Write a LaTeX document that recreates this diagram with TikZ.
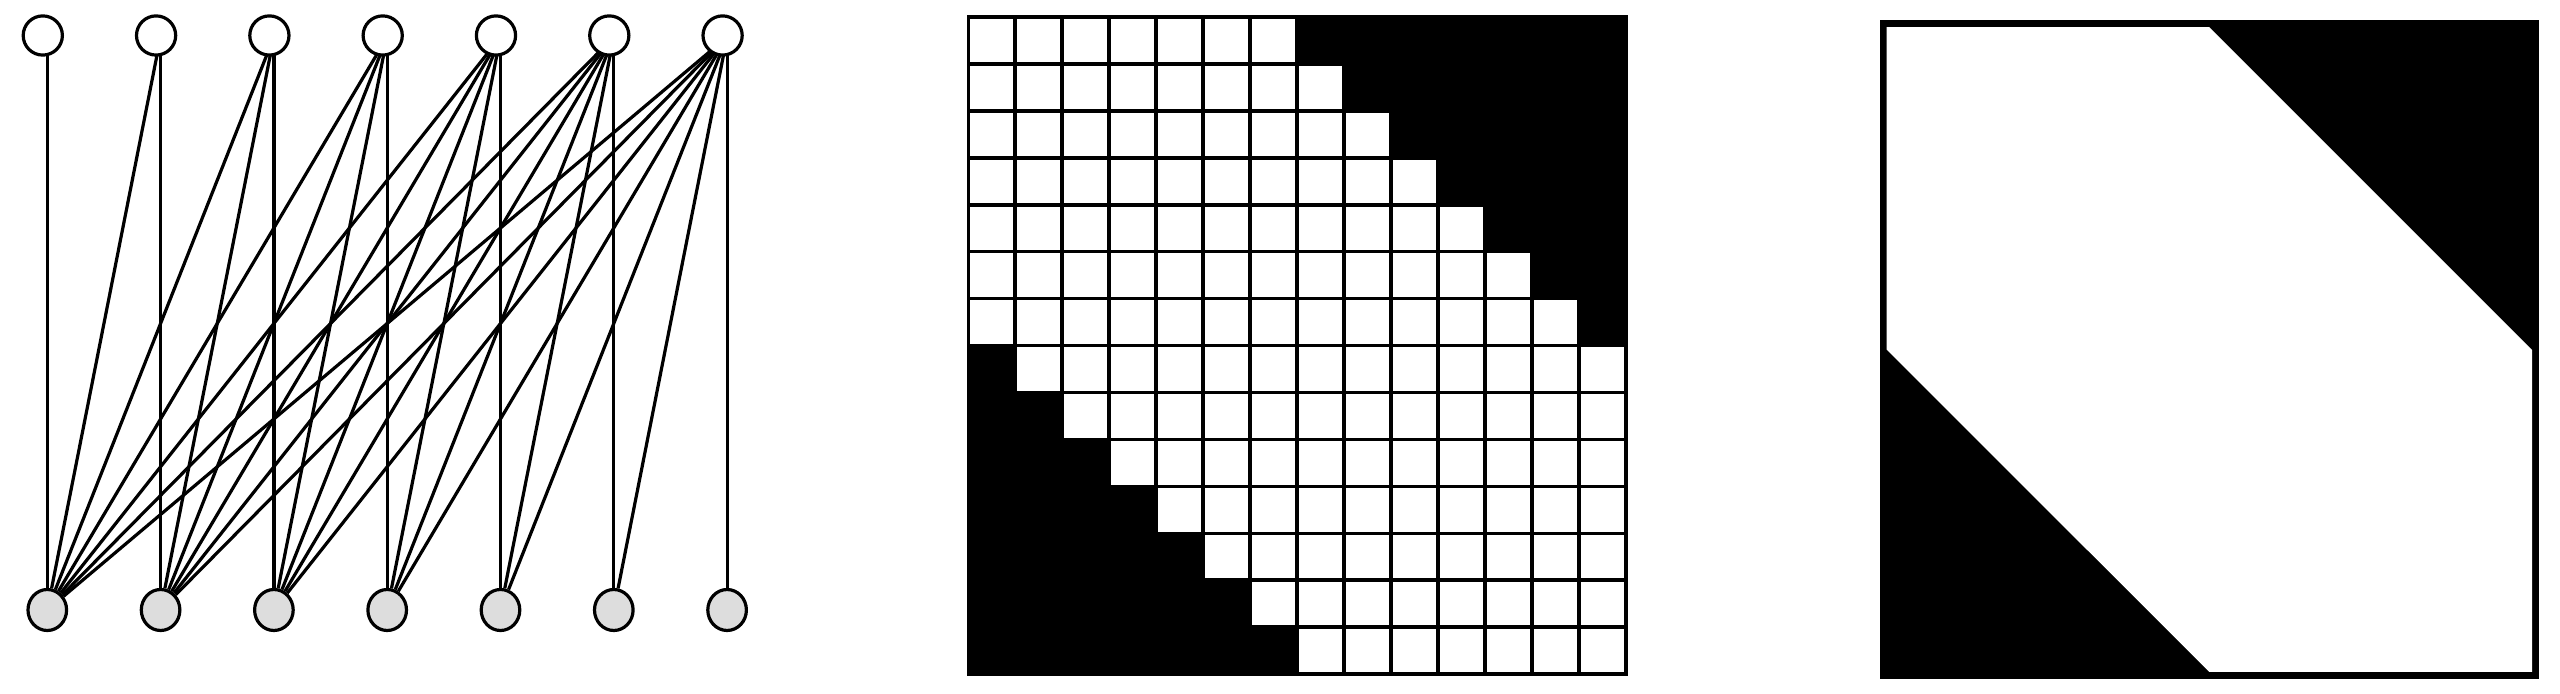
\documentclass[tikz,border=0pt]{standalone}
\usetikzlibrary{shapes.geometric}
\definecolor{botgray}{HTML}{DDDDDD}
\begin{document}
\begin{tikzpicture}[x=0.25pt,y=-0.25pt,
  topnode/.style={circle,draw=black,fill=white,line width=0.8pt,minimum size=9.8pt,inner sep=0pt},
  botnode/.style={ellipse,draw=black,fill=botgray,line width=0.8pt,minimum width=9.65pt,minimum height=10.25pt,inner sep=0pt},
  linkline/.style={draw=black,line width=0.8pt},
  cellbox/.style={draw=black,fill=white,line width=0.95pt}]
\useasboundingbox (0,0) rectangle (2560,694);
% bipartite graph
\foreach \i in {0,...,6} {
  \coordinate (t\i) at ({47.3+113.3*\i},37);
  \node[botnode] (b\i) at ({47.3+113.3*\i},610) {};
}
\foreach \i in {0,...,6} {
  \foreach \j in {0,...,\i} {
    \draw[linkline] (t\i) -- (b\j);
  }
}
\foreach \i in {0,...,6} {
  \node[topnode] (tc\i) at ({42.8+113.3*\i},35.5) {};
}
% grid
\fill[black,draw=black,line width=0.95pt] (968.4,16.75) rectangle (1626,674.35);
\foreach \r in {0,...,13} {
  \foreach \c in {0,...,13} {
    \pgfmathtruncatemacro\dd{abs(\c-\r)}
    \ifnum\dd<7
      \draw[cellbox] ({968.4+46.97*\c},{16.75+46.97*\r}) rectangle +(46.97,46.97);
    \fi
  }
}
% continuous panel
\fill[black] (1879.5,20.2) rectangle (2539,679);
\fill[white] (1886.5,27.2) -- (2209.3,27.2) -- (2532,350) -- (2532,672) -- (2209.3,672) -- (1886.5,349.4) -- cycle;
\end{tikzpicture}
\end{document}
